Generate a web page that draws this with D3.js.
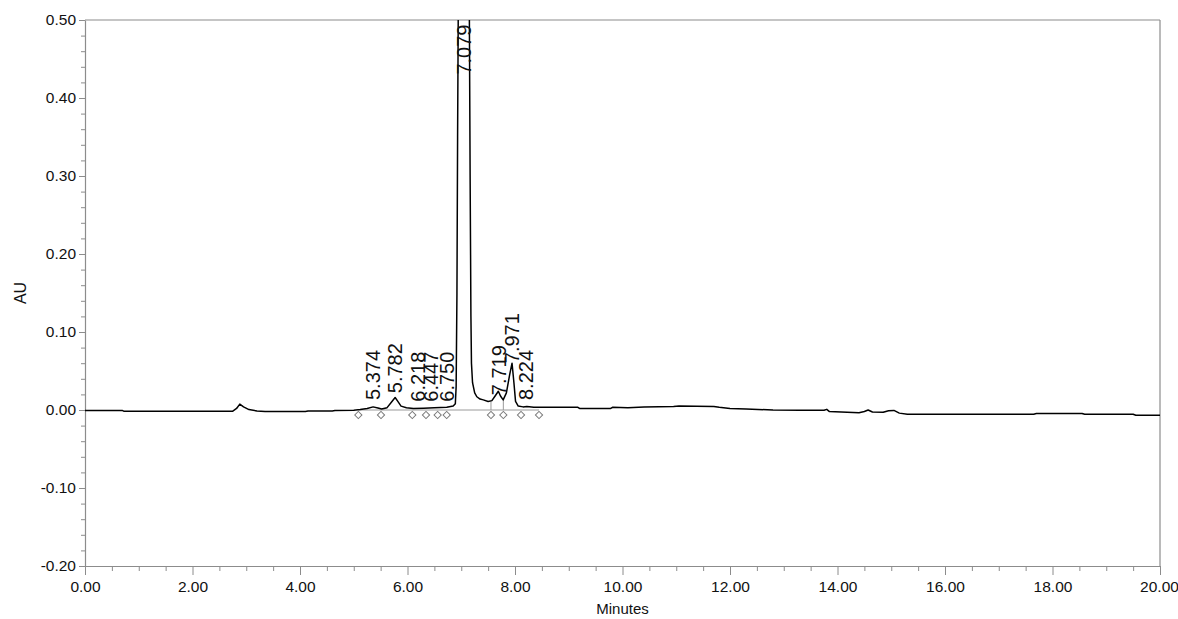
<!DOCTYPE html>
<html>
<head>
<meta charset="utf-8">
<script src="https://cdn.jsdelivr.net/npm/d3@7"></script>
<style>
  html, body { margin: 0; padding: 0; background: #fff; }
  svg { display: block; font-family: "Liberation Sans", Arial, sans-serif; }
</style>
</head>
<body>
<svg id="chart" width="1178" height="619"></svg>
<script>
// ---- data ----
const traceTime = [0.00,0.70,0.72,2.75,2.82,2.88,2.95,3.05,3.20,3.35,4.10,4.15,4.60,4.65,5.00,5.12,5.25,5.36,5.45,5.52,5.62,5.70,5.77,5.82,5.88,5.98,6.11,6.30,6.50,6.73,6.85,6.89,6.905,6.92,6.932,6.945,7.079,7.15,7.165,7.18,7.19,7.21,7.25,7.29,7.35,7.41,7.50,7.57,7.63,7.69,7.73,7.78,7.84,7.90,7.945,7.98,8.01,8.06,8.15,8.22,8.35,8.84,9.17,9.20,9.78,9.82,10.10,10.40,10.95,11.05,11.70,11.80,12.00,12.30,12.80,13.30,13.75,13.80,13.85,14.40,14.50,14.57,14.65,14.85,14.95,15.05,15.15,15.30,17.65,17.70,18.55,18.60,19.50,19.55,20.00];
const traceAU   = [-0.0008,-0.0008,-0.0015,-0.0015,0.002,0.0075,0.004,0.0005,-0.0012,-0.002,-0.002,-0.0013,-0.0012,-0.0005,-0.0002,0.0005,0.002,0.004,0.0025,0.0012,0.003,0.010,0.016,0.011,0.005,0.003,0.0018,0.0022,0.0028,0.0035,0.005,0.008,0.03,0.15,0.35,0.52,0.95,0.52,0.30,0.12,0.06,0.035,0.022,0.017,0.014,0.013,0.011,0.012,0.018,0.024,0.018,0.013,0.022,0.045,0.060,0.035,0.011,0.005,0.004,0.0045,0.0035,0.0035,0.0035,0.002,0.002,0.0035,0.003,0.004,0.0045,0.005,0.0045,0.0035,0.002,0.0012,0.0,-0.0002,-0.0003,0.0008,-0.002,-0.0035,-0.002,0.0,-0.0025,-0.003,-0.001,-0.0005,-0.004,-0.0055,-0.0055,-0.0045,-0.0045,-0.0055,-0.0055,-0.0068,-0.0068];

const peakLabels  = ["5.374","5.782","6.218","6.447","6.750","7.079","7.719","7.971","8.224"];
const peakTimes   = [5.374,5.782,6.218,6.447,6.750,7.079,7.719,7.971,8.224];
const peakLabelAU = [0.0128,0.0215,0.0106,0.0106,0.0106,0.430,0.019,0.060,0.0128];

const markerTimes = [5.085,5.507,6.089,6.344,6.561,6.729,7.553,7.783,8.112,8.447];
const dropTimes   = [7.553,7.783];
const dropAU      = [0.011,0.013];

const xMajorTicks = [0,2,4,6,8,10,12,14,16,18,20];
const xMajorLabels = ["0.00","2.00","4.00","6.00","8.00","10.00","12.00","14.00","16.00","18.00","20.00"];
const yMajorTicks = [-0.20,-0.10,0.00,0.10,0.20,0.30,0.40,0.50];
const yMajorLabels = ["-0.20","-0.10","0.00","0.10","0.20","0.30","0.40","0.50"];
const xTitle = "Minutes";
const yTitle = "AU";

// ---- layout ----
const svg = d3.select("#chart");
const L = 85, R = 1160, T = 20, B = 566;
const x = d3.scaleLinear().domain([0, 20]).range([L, R]);
const y = d3.scaleLinear().domain([-0.20, 0.50]).range([B, T]);
const axisColor = "#8c8c8c";

// minor ticks
const xMinor = d3.range(0, 20.001, 0.5).filter(v => Math.abs(v/2 - Math.round(v/2)) > 1e-6);
const yMinor = d3.range(-0.20, 0.5001, 0.02).filter(v => Math.abs(v*10 - Math.round(v*10)) > 1e-6);

const gx = svg.append("g").attr("transform", `translate(0,${B})`)
  .call(d3.axisBottom(x).tickValues(xMajorTicks).tickFormat((d,i) => xMajorLabels[i]).tickSize(9).tickPadding(6).tickSizeOuter(0));
const gxm = svg.append("g").attr("transform", `translate(0,${B})`)
  .call(d3.axisBottom(x).tickValues(xMinor).tickFormat("").tickSize(5).tickSizeOuter(0));
const gy = svg.append("g").attr("transform", `translate(${L},0)`)
  .call(d3.axisLeft(y).tickValues(yMajorTicks).tickFormat((d,i) => yMajorLabels[i]).tickSize(6).tickPadding(3).tickSizeOuter(0));
const gym = svg.append("g").attr("transform", `translate(${L},0)`)
  .call(d3.axisLeft(y).tickValues(yMinor).tickFormat("").tickSize(4).tickSizeOuter(0));

[gx, gxm, gy, gym].forEach(g => {
  g.selectAll(".domain").attr("stroke", axisColor).attr("stroke-width", 1.2);
  g.selectAll(".tick line").attr("stroke", axisColor).attr("stroke-width", 1);
  g.selectAll(".tick text").attr("fill", "#111").style("font-size", "15.5px")
    .style("font-family", "'Liberation Sans', Arial, sans-serif");
});
gxm.select(".domain").remove();
gym.select(".domain").remove();
// keep the last x label inside the page
gx.selectAll(".tick text").filter(d => d === 20).attr("dx", "-1px");

// frame top & right
svg.append("line").attr("x1", L).attr("x2", R).attr("y1", T).attr("y2", T).attr("stroke", axisColor).attr("stroke-width", 1.2);
svg.append("line").attr("x1", R).attr("x2", R).attr("y1", T).attr("y2", B).attr("stroke", axisColor).attr("stroke-width", 1.2);

// titles
svg.append("text").attr("x", x(10)).attr("y", 614).attr("text-anchor", "middle")
  .style("font-size", "15px").attr("fill", "#111").text(xTitle);
svg.append("text").attr("transform", `translate(26,${y(0.15)}) rotate(-90)`).attr("text-anchor", "middle")
  .style("font-size", "16px").attr("fill", "#111").text(yTitle);

// clip
svg.append("clipPath").attr("id", "plotclip").append("rect")
  .attr("x", L).attr("y", T).attr("width", R - L).attr("height", B - T);

// integration baseline (grey)
svg.append("line").attr("x1", x(markerTimes[0])).attr("x2", x(markerTimes[markerTimes.length-1]))
  .attr("y1", y(0)).attr("y2", y(0)).attr("stroke", "#9a9a9a").attr("stroke-width", 1);
dropTimes.forEach((t, i) => {
  svg.append("line").attr("x1", x(t)).attr("x2", x(t)).attr("y1", y(0)).attr("y2", y(dropAU[i]))
    .attr("stroke", "#9a9a9a").attr("stroke-width", 1);
});

// trace
const pts = traceTime.map((t, i) => [t, traceAU[i]]);
svg.append("path").attr("clip-path", "url(#plotclip)")
  .attr("d", d3.line().x(d => x(d[0])).y(d => y(d[1]))(pts))
  .attr("fill", "none").attr("stroke", "#000").attr("stroke-width", 1.5).attr("stroke-linejoin", "round");

// markers
const sym = d3.symbol().type(d3.symbolSquare).size(26);
svg.selectAll("path.mk").data(markerTimes).join("path").attr("class", "mk")
  .attr("d", sym()).attr("transform", d => `translate(${x(d)},${y(0) + 5}) rotate(45)`)
  .attr("fill", "#fff").attr("stroke", "#7a7a7a").attr("stroke-width", 1);

// peak labels
svg.selectAll("text.pk").data(peakLabels).join("text").attr("class", "pk")
  .attr("transform", (d, i) => `translate(${x(peakTimes[i])},${y(peakLabelAU[i])}) rotate(-90)`)
  .attr("dy", "0.3em").attr("text-anchor", "start")
  .style("font-size", "20px").attr("fill", "#111").text(d => d);
</script>
</body>
</html>
